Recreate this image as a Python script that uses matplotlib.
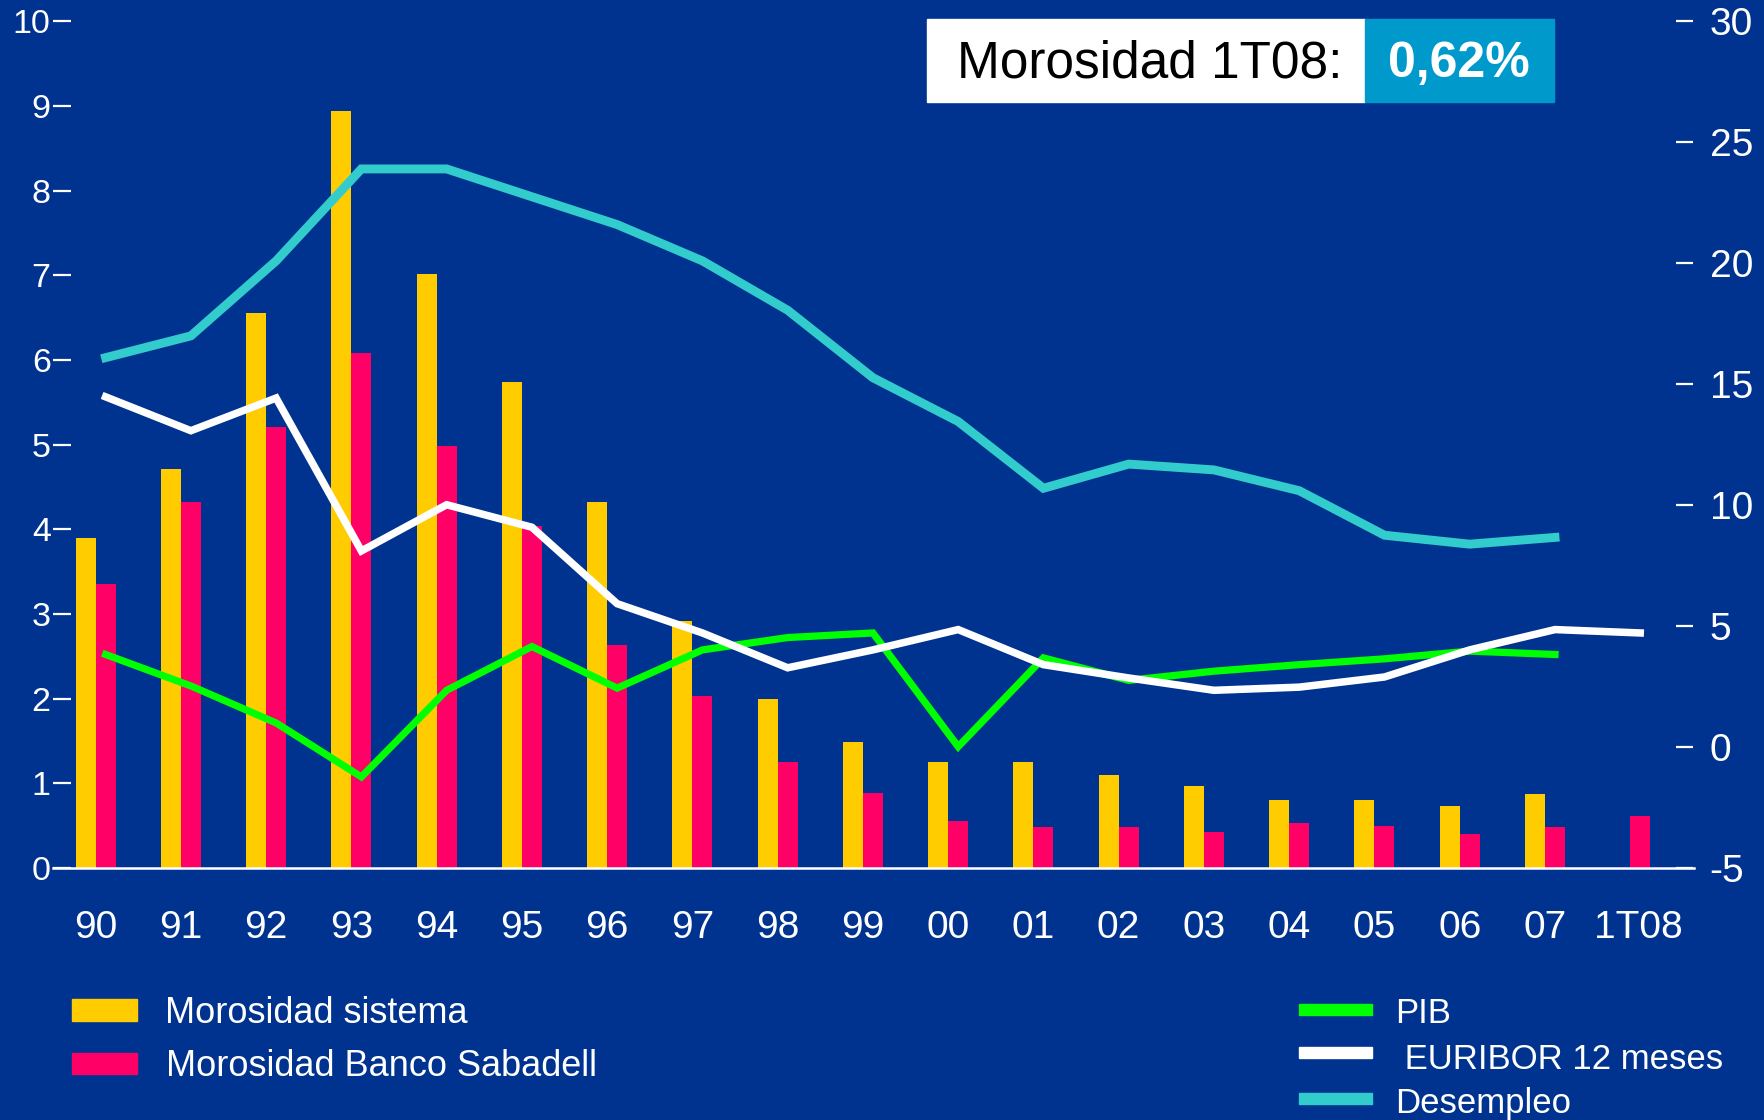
import matplotlib
matplotlib.use("Agg")
import matplotlib.pyplot as plt
from matplotlib import font_manager
from matplotlib.patches import Rectangle
from matplotlib.transforms import ScaledTranslation
import numpy as np

# ---------------- data ----------------
years = ["90", "91", "92", "93", "94", "95", "96", "97", "98", "99",
         "00", "01", "02", "03", "04", "05", "06", "07", "1T08"]
moro_sistema = [3.9, 4.71, 6.56, 8.94, 7.02, 5.74, 4.32, 2.92, 2.0, 1.49,
                1.25, 1.25, 1.10, 0.97, 0.81, 0.81, 0.73, 0.88, np.nan]
moro_sabadell = [3.35, 4.32, 5.21, 6.08, 4.99, 4.04, 2.64, 2.03, 1.25, 0.89,
                 0.56, 0.48, 0.48, 0.43, 0.53, 0.50, 0.40, 0.48, 0.62]
desempleo = [16.1, 17.0, 20.1, 23.9, 23.9, 22.75, 21.6, 20.1, 18.06, 15.27,
             13.46, 10.7, 11.7, 11.46, 10.6, 8.76, 8.39, 8.67]
euribor = [14.48, 13.08, 14.43, 8.11, 10.02, 9.09, 5.93, 4.72, 3.28, 4.02,
           4.86, 3.41, 2.86, 2.35, 2.48, 2.9, 4.02, 4.86, 4.72]
pib = [3.83, 2.53, 1.0, -1.23, 2.35, 4.16, 2.44, 4.02, 4.53, 4.72,
       0.02, 3.69, 2.76, 3.14, 3.41, 3.65, 3.97, 3.83]
left_ticks = [0, 1, 2, 3, 4, 5, 6, 7, 8, 9, 10]
right_ticks = [-5, 0, 5, 10, 15, 20, 25, 30]
legend_bars = ["Morosidad sistema", "Morosidad Banco Sabadell"]
legend_lines = ["PIB", " EURIBOR 12 meses", "Desempleo"]
box_label = "Morosidad 1T08:"
box_value = "0,62%"

# ---------------- style ----------------
BG = "#00338F"
YEL = "#FFCC00"
PINK = "#FF0066"
GREEN = "#00FF00"
TEAL = "#33CCCC"
BOXBLUE = "#0099CC"

avail = {f.name for f in font_manager.fontManager.ttflist}
if "Liberation Sans Narrow" in avail:
    FONT = "Liberation Sans Narrow"
    k = 1.16
else:
    FONT = "Liberation Sans"
    k = 1.0
plt.rcParams["font.family"] = [FONT, "DejaVu Sans"]
plt.rcParams["axes.unicode_minus"] = False

W, H = 1568.0, 996.0  # reference display coords
def fx(x):
    return x / W
def fy(y):
    return 1 - y / H

fig = plt.figure(figsize=(17.64, 11.20), dpi=100, facecolor=BG)
ax = fig.add_axes([fx(63), fy(772), fx(1490) - fx(63), fy(19) - fy(772)])
ax2 = ax.twinx()
for a in (ax, ax2):
    a.set_facecolor("none")
    for s in a.spines.values():
        s.set_visible(False)

x = np.arange(len(years))
bw = 0.235
ax.bar(x - bw / 2, moro_sistema, width=bw, color=YEL, zorder=2)
ax.bar(x + bw / 2, moro_sabadell, width=bw, color=PINK, zorder=2)
ax.set_ylim(0, 10)
ax.set_xlim(-0.29, 18.54)
ax.set_yticks(left_ticks)
ax.tick_params(axis="y", colors="white", labelsize=24.5 * k, length=13, width=1.6,
               pad=1.5, direction="out")
ax.set_xticks(x)
ax.set_xticklabels(years)
ax.tick_params(axis="x", colors="white", labelsize=28 * k, length=0, pad=30)
lbl = ax.get_xticklabels()[-1]
lbl.set_transform(lbl.get_transform() + ScaledTranslation(0.08, 0, fig.dpi_scale_trans))

ax2.plot(x[:len(pib)] + bw / 2, pib, color=GREEN, lw=5.2, zorder=3, solid_joinstyle="miter")
ax2.plot(x[:len(euribor)] + bw / 2, euribor, color="white", lw=5.4, zorder=4, solid_joinstyle="miter")
ax2.plot(x[:len(desempleo)] + bw / 2, desempleo, color=TEAL, lw=6.4, zorder=5, solid_joinstyle="miter")
ax2.set_ylim(-5, 30)
ax2.set_yticks(right_ticks)
ax2.tick_params(axis="y", colors="white", labelsize=28 * k, length=12, width=1.6,
                pad=12, direction="out")

# baseline
ax.plot([-0.011, 1.011], [0, 0], transform=ax.transAxes, color="white", lw=1.8,
        clip_on=False, zorder=6)

# legend (bars)
fig.patches.append(Rectangle((fx(64), fy(908)), fx(122) - fx(64), fy(888) - fy(908),
                             transform=fig.transFigure, color=YEL))
fig.patches.append(Rectangle((fx(64), fy(955)), fx(122) - fx(64), fy(936) - fy(955),
                             transform=fig.transFigure, color=PINK))
fig.text(fx(147), fy(901), legend_bars[0], color="white", fontsize=26 * k, va="center", ha="left")
fig.text(fx(148), fy(948), legend_bars[1], color="white", fontsize=26 * k, va="center", ha="left")

# legend (lines)
for (yy, ty, col, txt) in [(898, 901, GREEN, legend_lines[0]), (936, 942, "white", legend_lines[1]),
                           (977, 981, TEAL, legend_lines[2])]:
    fig.patches.append(Rectangle((fx(1155), fy(yy + 5)), fx(1220) - fx(1155), fy(yy - 5) - fy(yy + 5),
                                 transform=fig.transFigure, color=col))
    fig.text(fx(1240), fy(ty), txt, color="white", fontsize=25 * k, va="center", ha="left")

# annotation box
fig.patches.append(Rectangle((fx(824), fy(91)), fx(1213) - fx(824), fy(17) - fy(91),
                             transform=fig.transFigure, color="white", zorder=10))
fig.patches.append(Rectangle((fx(1213), fy(91)), fx(1381) - fx(1213), fy(17) - fy(91),
                             transform=fig.transFigure, color=BOXBLUE, zorder=10))
fig.text(fx(851), fy(57), box_label, color="black", fontsize=37 * k, va="center", ha="left", zorder=11)
fig.text(fx(1297), fy(57), box_value, color="white", fontsize=36 * k, fontweight="bold",
         va="center", ha="center", zorder=11)

fig.savefig("out.png", dpi=100, facecolor=BG)
